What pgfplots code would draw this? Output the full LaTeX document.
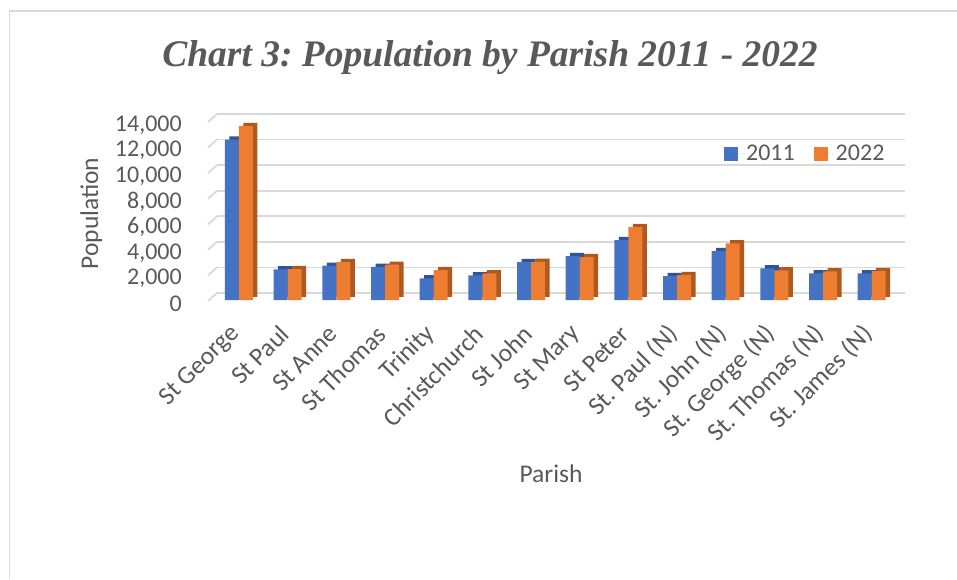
\documentclass[border=0pt]{standalone}
\usepackage{pgfplots}
\pgfplotsset{compat=1.18}
\usepackage{fontspec}
\setmainfont{Carlito}
\newfontfamily\titlefont{Liberation Serif}
\definecolor{bblue}{HTML}{4472C4}
\definecolor{bblued}{HTML}{2F5597}
\definecolor{borange}{HTML}{ED7D31}
\definecolor{borange d}{HTML}{B0591E}
\definecolor{gridc}{HTML}{D9D9D9}
\definecolor{framec}{HTML}{D9D9D9}
\definecolor{tickc}{HTML}{595959}
\pgfplotstableread{
idx y2011 y2022
0 12550 13600
1 2400 2420
2 2680 2970
3 2600 2760
4 1700 2340
5 1930 2080
6 2970 2980
7 3440 3360
8 4690 5700
9 1875 1950
10 3830 4430
11 2470 2320
12 2080 2240
13 2080 2270
}\datatable
\begin{document}
\frenchspacing
\begin{tikzpicture}[x=1pt,y=1pt]
\useasboundingbox (0,0) rectangle (957,-579);
\draw[framec, line width=1.3pt] (9.6,-579) -- (9.6,-11) -- (957,-11);
\node[anchor=base, text=tickc, font=\titlefont\bfseries\itshape\fontsize{37.5}{45}\selectfont] at (490,-66) {Chart 3: Population by Parish 2011 - 2022};
\node[anchor=base, text=tickc, font=\fontsize{25.5}{30}\selectfont] at (551,-482.3) {Parish};
\node[anchor=base, rotate=90, text=tickc, font=\fontsize{25.5}{30}\selectfont] at (98,-213.5) {Population};
\begin{axis}[
  at={(217pt,-293pt)}, anchor=south west,
  scale only axis, width=688pt, height=179pt,
  xmin=-0.534, xmax=13.602, ymin=0, ymax=14000,
  clip=false,
  axis line style={draw=none},
  major tick length=0pt,
  ymajorgrids, grid style={gridc, line width=1.8pt},
  ytick={0,2000,4000,6000,8000,10000,12000,14000},
  scaled y ticks=false,
  /pgf/number format/.cd, 1000 sep={,}, assume math mode=true, /pgfplots/.cd,
  yticklabel style={font=\fontsize{24}{28}\selectfont, text=tickc, anchor=east, inner sep=0pt, xshift=-35pt, yshift=-11pt},
  xtick={0,...,13},
  xticklabels={St George, St Paul, St Anne, St Thomas, Trinity, Christchurch, St John, St Mary, St Peter, {St. Paul (N)}, {St. John (N)}, {St. George (N)}, {St. Thomas (N)}, {St. James (N)}},
  xticklabel style={font=\fontsize{25.5}{30}\selectfont, text=tickc, xshift=-7pt, yshift=-37pt, rotate=45, anchor=east, inner sep=0pt},
  legend style={at={(axis description cs:0.855,0.777)}, anchor=center, draw=none, fill=none, legend columns=2, font=\fontsize{24}{28}\selectfont, text=tickc, /tikz/every even column/.append style={column sep=17pt}},
  legend image code/.code={\fill[#1] (0pt,-7pt) rectangle (14pt,7pt); \path (0pt,0pt) -- (20pt,0pt);},
]
\pgfplotsinvokeforeach{0,2000,4000,6000,8000,10000,12000,14000}{
  \draw[gridc, line width=1.8pt] (axis cs:-0.534,#1) -- ++(-9pt,-8pt);
}
% shadows (3D sides and tops)
\addplot[ybar, forget plot, bar width=14pt, bar shift=-7pt, xshift=0.5pt, yshift=-3.8pt, fill=bblued, draw=none] table[x=idx, y=y2011] {\datatable};
\addplot[ybar, forget plot, bar width=14pt, bar shift=7pt, xshift=0.5pt, yshift=-3.8pt, fill=borange d, draw=none] table[x=idx, y=y2022] {\datatable};
% front faces
\addplot[ybar, forget plot, bar width=14pt, bar shift=-7pt, xshift=-4pt, yshift=-7pt, fill=bblue, draw=none] table[x=idx, y=y2011] {\datatable};
\addplot[ybar, forget plot, bar width=14pt, bar shift=7pt, xshift=-4pt, yshift=-7pt, fill=borange, draw=none] table[x=idx, y=y2022] {\datatable};
\addlegendimage{fill=bblue, draw=none}
\addlegendentry{2011}
\addlegendimage{fill=borange, draw=none}
\addlegendentry{2022}
\end{axis}
\end{tikzpicture}
\end{document}
